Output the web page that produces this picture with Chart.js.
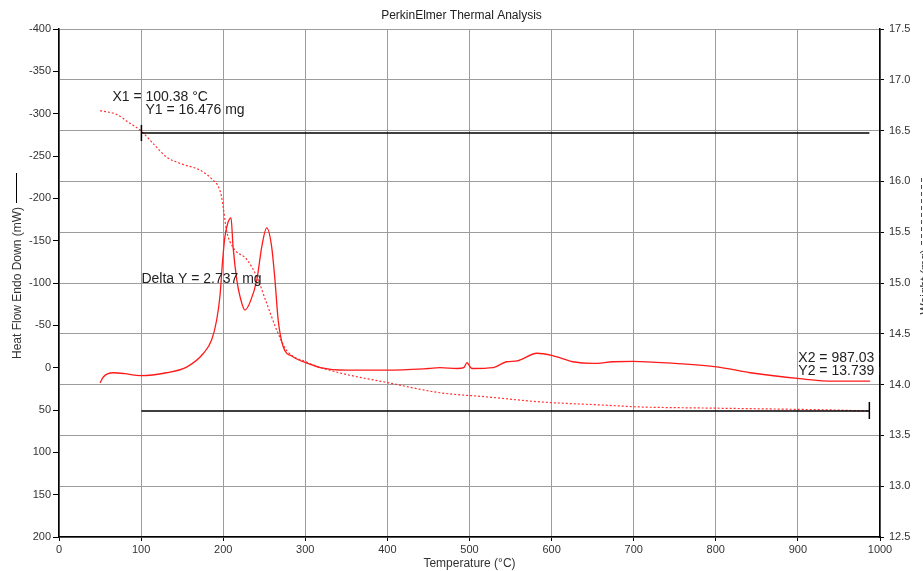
<!DOCTYPE html>
<html lang="en">
<head>
    <meta charset="UTF-8">
    <title>PerkinElmer Thermal Analysis</title>
    <script src="https://cdn.jsdelivr.net/npm/chart.js"></script>
    <style>
        body {
            margin: 0;
            padding: 0;
            background-color: #fff;
        }

        .wrap {
            width: 923px;
            height: 571px;
        }
    </style>
</head>
<body>
    <div class="wrap">
        <canvas id="myChart" width="923" height="571"></canvas>
    </div>

<script>
    // heat flow curve (left axis, mW)
    var hfTemp = [50, 54, 60, 66, 80, 99, 131, 156, 176, 186, 192, 196, 199, 202, 206, 209.5, 212, 216.5, 220.5, 226.5, 233, 241, 247, 253, 259, 263, 267, 273, 285, 306, 318, 350, 400, 450, 464, 485, 493, 497, 500, 503, 529, 545, 558, 582, 602, 626, 650, 675, 699, 750, 801, 842, 902, 943, 988];
    var hfValues = [18, 11, 7, 6, 7, 9.5, 6, -1, -17, -33, -56, -84, -123, -154, -172, -177, -143, -104, -84, -68, -78, -104, -143, -165, -143, -104, -56, -25, -13, -4, 0, 3, 3, 1, 0, 1, 0, -6, -2, 1, 0, -7, -8, -17, -14, -7, -5, -7, -7.5, -5, -1, 6, 13, 16, 16];

    // weight curve (right axis, mg)
    var wTemp = [50, 70, 85, 100, 115, 131, 150, 172, 188, 194, 198, 200, 204, 212, 229, 241, 253, 265, 277, 302, 318, 350, 400, 464, 520, 586, 659, 708, 781, 870, 943, 987];
    var wValues = [16.696, 16.66, 16.58, 16.496, 16.37, 16.24, 16.17, 16.11, 16.01, 15.95, 15.85, 15.75, 15.52, 15.35, 15.23, 15.06, 14.80, 14.54, 14.34, 14.22, 14.17, 14.10, 14.02, 13.92, 13.88, 13.83, 13.80, 13.78, 13.77, 13.76, 13.75, 13.74];

    // cursors
    var cursorX = [100.38, 987.03];
    var cursorY = [16.476, 13.739];

    var xTicks = [0, 1000, 100];
    var hfTicks = [-400, 200, 50];
    var wTicks = [12.5, 17.5, 0.5];

    function toPoints(xs, ys) {
        return xs.map(function(x, i) { return { x: x, y: ys[i] }; });
    }

    var fontFamily = 'Arial, "Liberation Sans", sans-serif';
    var tickFont = { family: fontFamily, size: 11 };
    var titleFont = { family: fontFamily, size: 12 };
    var tickColor = '#333';
    var gridColor = '#9c9c9c';

    var overlay = {
        id: 'overlay',
        afterDatasetsDraw: function(chart) {
            var ctx = chart.ctx;
            var xs = chart.scales.x;
            var y1 = chart.scales.y1;
            var area = chart.chartArea;
            var ax1 = xs.getPixelForValue(cursorX[0]);
            var ax2 = xs.getPixelForValue(cursorX[1]);
            var ay1 = y1.getPixelForValue(cursorY[0]);
            var ay2 = y1.getPixelForValue(cursorY[1]);

            ctx.save();
            ctx.strokeStyle = '#000';
            ctx.lineWidth = 1.5;
            ctx.beginPath();
            ctx.moveTo(ax1, ay1); ctx.lineTo(ax2, ay1);
            ctx.moveTo(ax1, ay1 - 8); ctx.lineTo(ax1, ay1 + 8);
            ctx.moveTo(ax1, ay2); ctx.lineTo(ax2, ay2);
            ctx.moveTo(ax2, ay2 - 9); ctx.lineTo(ax2, ay2 + 8);
            ctx.stroke();

            ctx.beginPath();
            ctx.rect(area.left, area.top, area.right - area.left, area.bottom - area.top);
            ctx.clip();
            ctx.fillStyle = '#222';
            ctx.font = '14px ' + fontFamily;
            ctx.textBaseline = 'middle';
            ctx.textAlign = 'left';
            ctx.fillText('X1 = ' + cursorX[0].toFixed(2) + ' °C', ax1 - 29, ay1 - 36);
            ctx.fillText('Y1 = ' + cursorY[0].toFixed(3) + ' mg', ax1 + 4, ay1 - 23);
            ctx.fillText('Delta Y = ' + (cursorY[0] - cursorY[1]).toFixed(3) + ' mg', ax1, 279);
            ctx.fillText('X2 = ' + cursorX[1].toFixed(2) + ' °C', ax2 - 71, ay2 - 53);
            ctx.fillText('Y2 = ' + cursorY[1].toFixed(3) + ' mg', ax2 - 71, ay2 - 40);
            ctx.restore();

            // axis legends
            ctx.save();
            ctx.lineWidth = 1;
            ctx.strokeStyle = '#000';
            ctx.beginPath();
            ctx.moveTo(16.5, 173); ctx.lineTo(16.5, 203);
            ctx.stroke();

            ctx.strokeStyle = '#ff0000';
            ctx.setLineDash([4, 3]);
            ctx.beginPath();
            ctx.moveTo(921.5, 178); ctx.lineTo(921.5, 245);
            ctx.stroke();
            ctx.setLineDash([]);

            ctx.translate(926, 282);
            ctx.rotate(-Math.PI / 2);
            ctx.fillStyle = tickColor;
            ctx.font = '12px ' + fontFamily;
            ctx.textAlign = 'center';
            ctx.textBaseline = 'middle';
            ctx.fillText('Weight (mg)', 0, 0);
            ctx.restore();
        }
    };

    window.onload = function() {
        var ctx = document.getElementById('myChart').getContext('2d');
        var myChart = new Chart(ctx, {
            type: 'line',
            data: {
                datasets: [{
                    label: 'Heat Flow Endo Down (mW)',
                    data: toPoints(hfTemp, hfValues),
                    yAxisID: 'y',
                    borderColor: '#ff1a1a',
                    borderWidth: 1.3,
                    pointRadius: 0,
                    cubicInterpolationMode: 'monotone'
                }, {
                    label: 'Weight (mg)',
                    data: toPoints(wTemp, wValues),
                    yAxisID: 'y1',
                    borderColor: '#ff3030',
                    borderWidth: 1.2,
                    borderDash: [2, 2],
                    pointRadius: 0,
                    cubicInterpolationMode: 'monotone'
                }]
            },
            options: {
                responsive: false,
                animation: false,
                layout: { padding: { left: 0, right: 0, top: 0, bottom: 0 } },
                plugins: {
                    legend: { display: false },
                    tooltip: { enabled: false },
                    title: {
                        display: true,
                        text: 'PerkinElmer Thermal Analysis',
                        color: '#222',
                        font: { family: fontFamily, size: 12, weight: 'normal' },
                        padding: { top: 8, bottom: 6.6 }
                    }
                },
                scales: {
                    x: {
                        type: 'linear',
                        min: xTicks[0],
                        max: xTicks[1],
                        ticks: {
                            stepSize: xTicks[2],
                            color: tickColor,
                            font: tickFont,
                            padding: 2,
                            maxRotation: 0,
                            callback: function(v) { return String(v); }
                        },
                        grid: { color: gridColor, lineWidth: 1, tickLength: 4, tickColor: '#000' },
                        border: { color: '#000', width: 1.5 },
                        title: {
                            display: true,
                            text: 'Temperature (°C)',
                            color: tickColor,
                            font: titleFont,
                            padding: { top: 0, bottom: 0 }
                        },
                        afterFit: function(scale) { scale.height = 34; }
                    },
                    y: {
                        type: 'linear',
                        position: 'left',
                        reverse: true,
                        min: hfTicks[0],
                        max: hfTicks[1],
                        ticks: { stepSize: hfTicks[2], color: tickColor, font: tickFont, padding: 2 },
                        grid: { drawOnChartArea: false, tickLength: 6, tickColor: '#000' },
                        border: { color: '#000', width: 1.5 },
                        title: {
                            display: true,
                            text: 'Heat Flow Endo Down (mW)',
                            color: tickColor,
                            font: titleFont,
                            padding: { top: 10, bottom: 0 }
                        },
                        afterFit: function(scale) { scale.width = 59; }
                    },
                    y1: {
                        type: 'linear',
                        position: 'right',
                        min: wTicks[0],
                        max: wTicks[1],
                        ticks: {
                            stepSize: wTicks[2],
                            color: tickColor,
                            font: tickFont,
                            padding: 5,
                            callback: function(v) { return v.toFixed(1); }
                        },
                        grid: { color: gridColor, lineWidth: 1, tickLength: 4, tickColor: '#000' },
                        border: { color: '#000', width: 1.5 },
                        afterFit: function(scale) { scale.width = 43; }
                    }
                }
            },
            plugins: [overlay]
        });
    };
</script>
</body>
</html>
